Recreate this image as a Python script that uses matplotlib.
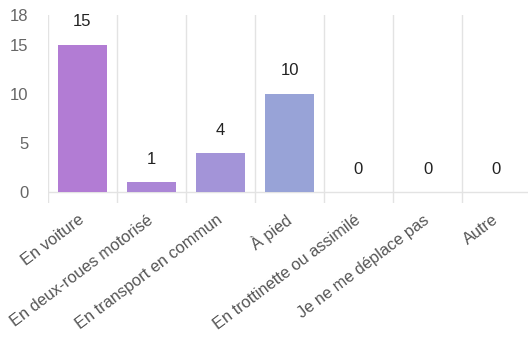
"""Bar chart of transport modes."""

import matplotlib
matplotlib.use("Agg")
import matplotlib.pyplot as plt
import numpy as np

categories = ["En voiture", "En deux-roues motorisé", "En transport en commun",
              "À pied", "En trottinette ou assimilé", "Je ne me déplace pas", "Autre"]
counts = [15, 1, 4, 10, 0, 0, 0]
y_ticks = [0, 5, 10, 15, 18]

bar_colors = ["#b27cd4", "#ab86d6", "#a394d8", "#98a3d7", "#98a3d7", "#98a3d7", "#98a3d7"]

plt.rcParams["font.family"] = ["Liberation Sans", "DejaVu Sans"]

W, H = 528, 345
fig = plt.figure(figsize=(W / 100, H / 100), dpi=100)
ax = fig.add_axes([48 / W, (H - 203) / H, 483 / W, (203 - 15) / H])

x = np.arange(len(categories))
ax.bar(x, counts, width=0.72, color=bar_colors, zorder=2)

for xi, v in zip(x, counts):
    ax.annotate(str(v), (xi, v), xytext=(0, 11), textcoords="offset points",
                ha="center", va="bottom", fontsize=12, color="#222222")

# category separators extending a bit below the baseline
for b in np.arange(len(categories) + 1) - 0.5:
    ax.axvline(b, color="#e3e3e3", lw=1, zorder=0)
ax.axhline(0, color="#e3e3e3", lw=1, zorder=1)

ax.set_xlim(-0.5, len(categories) - 0.5)
ax.set_ylim(-1.1, 18)
ax.set_yticks(y_ticks)
ax.set_yticklabels([str(t) for t in y_ticks])
ax.set_xticks(x)
ax.set_xticklabels(categories, rotation=37, ha="right", va="center",
                   rotation_mode="anchor")
for spine in ax.spines.values():
    spine.set_visible(False)
ax.tick_params(axis="y", length=0, labelsize=12, labelcolor="#666666", pad=14)
ax.tick_params(axis="x", length=0, labelsize=11.8, labelcolor="#555555", pad=11)

fig.savefig("out.png", dpi=100)
plt.close(fig)
